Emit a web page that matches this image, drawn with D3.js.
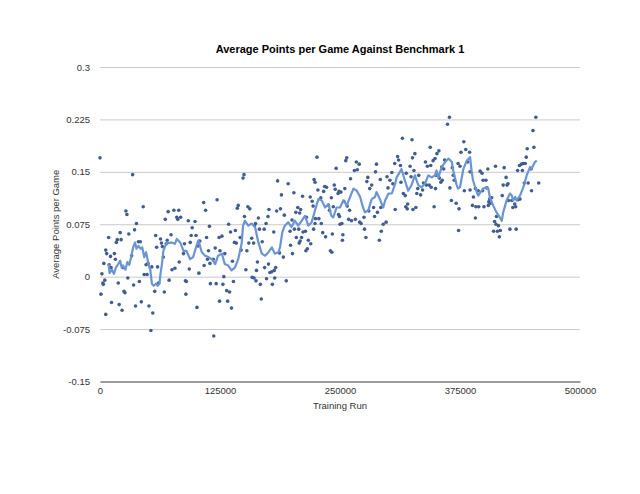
<!DOCTYPE html>
<html>
<head>
<meta charset="utf-8">
<script src="https://cdn.jsdelivr.net/npm/d3@7/dist/d3.min.js"></script>
<style>
    body { margin: 0; background: #fff; }
    text { font-family: "Liberation Sans", Arial, Helvetica, sans-serif; }
</style>
</head>
<body>
<svg id="chart"></svg>
<script>
// tick values
const yTicks = [-0.15, -0.075, 0, 0.075, 0.15, 0.225, 0.3];
const yTickLabels = ['-0.15', '-0.075', '0', '0.075', '0.15', '0.225', '0.3'];
const xTicks = [0, 125000, 250000, 375000, 500000];

// scatter: [training run, average points per game]
const points = [
    [0, 0.170], [34000, 0.146], [27000, 0.094], [28000, 0.089], [45000, 0.100], [71000, 0.093],
    [68000, 0.082], [38000, 0.076], [36000, 0.067], [9000, 0.056], [21000, 0.063], [17000, 0.049],
    [18000, 0.053], [22000, 0.053], [30000, 0.061], [40000, 0.050], [42000, 0.050], [58000, 0.059],
    [63000, 0.054], [64000, 0.048], [65000, 0.043], [70000, 0.052], [7000, 0.033], [6000, 0.038],
    [11000, 0.029], [15000, 0.033], [16000, 0.025], [4000, 0.019], [2000, 0.004], [3000, -0.009],
    [3500, -0.011], [5000, -0.005], [1000, -0.025], [6000, -0.054], [12000, -0.037], [20000, -0.040],
    [23000, -0.048], [19000, -0.009], [25000, -0.021], [26000, -0.023], [29000, -0.002], [35000, -0.012],
    [37000, -0.042], [41000, -0.007], [43000, -0.036], [46000, 0.003], [49000, 0.003], [48000, 0.017],
    [50000, 0.019], [54000, 0.014], [51000, -0.042], [55000, -0.052], [53000, -0.077], [57000, -0.021],
    [60000, 0.014], [67000, -0.022], [72000, -0.005], [61000, -0.009], [66000, 0.028], [9500, 0.017],
    [11500, 0.013], [24000, 0.013], [33000, 0.030], [59000, 0.042], [69000, 0.047],
    [149000, 0.141], [150000, 0.146], [108000, 0.106], [122000, 0.110], [110000, 0.095], [77000, 0.095],
    [82000, 0.095], [80000, 0.085], [81000, 0.082], [84000, 0.085], [92000, 0.080], [99000, 0.079],
    [114000, 0.072], [143000, 0.098], [144000, 0.102], [134000, 0.075], [150500, 0.086], [96000, 0.070],
    [95000, 0.059], [100000, 0.059], [74000, 0.060], [111000, 0.056], [104000, 0.051], [124000, 0.056],
    [127000, 0.058], [136000, 0.064], [141000, 0.066], [140000, 0.049], [142000, 0.048], [120000, 0.041],
    [147000, 0.038], [82500, 0.021], [87000, 0.033], [93000, 0.011], [75000, 0.010], [78000, 0.012],
    [103000, 0.005], [114500, 0.019], [112000, 0.025], [108500, 0.016], [118000, 0.025], [138000, 0.022],
    [129000, 0.000], [89000, -0.006], [90000, -0.007], [89500, -0.025], [115000, -0.010], [121000, -0.010],
    [128000, -0.011], [132000, -0.020], [135000, -0.022], [139000, -0.007], [101000, -0.044], [124500, -0.035],
    [133000, -0.035], [137000, -0.045], [118500, -0.085], [88000, 0.047], [94000, 0.049], [102000, 0.044],
    [113000, 0.037], [125000, 0.037], [130000, 0.033],
    [226000, 0.171], [185000, 0.137], [196000, 0.133], [223000, 0.139], [224000, 0.135], [227000, 0.124],
    [189000, 0.117], [202000, 0.120], [211000, 0.115], [219000, 0.114], [221000, 0.108], [222000, 0.101],
    [154000, 0.100], [156000, 0.097], [176000, 0.096], [184000, 0.094], [188000, 0.097], [192000, 0.088],
    [206000, 0.099], [204000, 0.092], [208000, 0.091], [209000, 0.096], [215000, 0.085], [224500, 0.083],
    [228000, 0.083], [165000, 0.084], [175000, 0.086], [200000, 0.081], [161000, 0.073], [162000, 0.076],
    [166000, 0.068], [171000, 0.068], [173000, 0.076], [181000, 0.064], [198000, 0.065], [202500, 0.068],
    [207000, 0.068], [211500, 0.064], [214000, 0.065], [204500, 0.056], [210000, 0.056], [222500, 0.068],
    [146000, 0.056], [158000, 0.055], [160000, 0.048], [155000, 0.048], [153000, 0.037], [169000, 0.050],
    [207500, 0.048], [208500, 0.051], [217000, 0.052], [219500, 0.047], [214500, 0.037], [216000, 0.040],
    [198500, 0.045], [200500, 0.033], [187000, 0.034], [191000, 0.028], [164000, 0.021], [175500, 0.018],
    [171500, 0.013], [183000, 0.013], [181500, 0.009], [177000, 0.006], [179000, 0.007], [152000, 0.010],
    [163000, 0.009], [158500, -0.001], [160500, -0.002], [162500, -0.006], [173500, -0.003], [182000, -0.002],
    [179500, -0.011], [167000, -0.011], [194000, -0.006], [168000, -0.032],
    [257000, 0.170], [256000, 0.166], [267000, 0.164], [270000, 0.161], [246000, 0.155], [265000, 0.152],
    [268000, 0.153], [288000, 0.161], [287000, 0.150], [307000, 0.162], [304000, 0.149], [261000, 0.140],
    [279000, 0.142], [278000, 0.136], [292000, 0.139], [299000, 0.143], [302000, 0.138], [234000, 0.129],
    [236000, 0.128], [244000, 0.131], [245000, 0.125], [249000, 0.122], [251000, 0.121], [255000, 0.126],
    [283000, 0.131], [281000, 0.126], [300000, 0.127], [233000, 0.122], [230000, 0.113], [241000, 0.113],
    [248000, 0.119], [254000, 0.108], [257500, 0.101], [260000, 0.095], [238000, 0.102], [239000, 0.095],
    [243000, 0.100], [248500, 0.089], [249500, 0.086], [252000, 0.076], [250000, 0.075], [230500, 0.076],
    [224000, 0.076], [259000, 0.082], [262000, 0.080], [266000, 0.082], [270500, 0.078], [272000, 0.076],
    [275000, 0.085], [275500, 0.068], [277000, 0.056], [280000, 0.094], [285000, 0.099], [289000, 0.092],
    [286000, 0.086], [292500, 0.099], [298000, 0.078], [295000, 0.075], [293000, 0.065], [291000, 0.052],
    [307500, 0.096], [232000, 0.063], [235000, 0.057], [242000, 0.061], [240000, 0.037], [241500, 0.035],
    [253000, 0.060], [252500, 0.052],
    [364000, 0.228], [362000, 0.218], [315000, 0.198], [325000, 0.196], [344000, 0.185], [379000, 0.193],
    [353000, 0.180], [351000, 0.176], [328000, 0.176], [376000, 0.178], [381000, 0.182], [385000, 0.178],
    [310000, 0.172], [311000, 0.167], [325500, 0.170], [339000, 0.164], [347000, 0.166], [349000, 0.169],
    [359000, 0.167], [313000, 0.159], [323000, 0.158], [341000, 0.158], [344500, 0.159], [356000, 0.157],
    [358000, 0.154], [373000, 0.162], [375000, 0.158], [367000, 0.156], [319000, 0.148], [327000, 0.152],
    [332000, 0.145], [324000, 0.143], [350000, 0.145], [353500, 0.141], [355000, 0.135], [356500, 0.138],
    [305000, 0.133], [313500, 0.135], [368000, 0.145], [369000, 0.138], [337000, 0.134], [340000, 0.131],
    [343000, 0.131], [345000, 0.128], [331000, 0.126], [336000, 0.124], [349500, 0.126], [330000, 0.119],
    [334000, 0.117], [316000, 0.119], [318000, 0.116], [364500, 0.127], [379500, 0.123], [385500, 0.124],
    [318500, 0.100], [320000, 0.097], [320500, 0.104], [326000, 0.096], [329000, 0.099], [348000, 0.100],
    [366000, 0.109], [371000, 0.105], [374000, 0.097], [373500, 0.066],
    [454000, 0.228], [451000, 0.209], [452000, 0.185], [445000, 0.183], [444000, 0.171], [383000, 0.164],
    [385500, 0.150], [441000, 0.162], [443000, 0.162], [437000, 0.159], [439000, 0.161], [435000, 0.152],
    [440000, 0.152], [449000, 0.154], [412000, 0.158], [421000, 0.156], [404000, 0.154], [396000, 0.151],
    [398000, 0.148], [423000, 0.142], [399000, 0.138], [402000, 0.138], [425000, 0.133], [420000, 0.131],
    [424000, 0.131], [442000, 0.134], [446000, 0.134], [457000, 0.134], [391000, 0.126], [394000, 0.123],
    [398500, 0.123], [403000, 0.127], [449500, 0.123], [389000, 0.114], [406000, 0.111], [408000, 0.113],
    [419000, 0.116], [437500, 0.111], [435500, 0.110], [388000, 0.102], [391500, 0.100], [394500, 0.100],
    [400000, 0.100], [404500, 0.102], [405000, 0.107], [407000, 0.105], [425500, 0.109], [429000, 0.109],
    [432000, 0.104], [433000, 0.100], [430000, 0.099], [391000, 0.084], [413000, 0.086], [411000, 0.079],
    [412500, 0.075], [410000, 0.065], [414000, 0.065], [415000, 0.073], [416000, 0.057], [417000, 0.066],
    [427000, 0.068], [433500, 0.068]
];

// moving average trend line: [training run, value]
const trend = [
    [9000, 0.018], [10000, 0.005], [12500, 0.010], [14500, 0.004], [16500, 0.013], [19000, 0.018],
    [21000, 0.023], [22500, 0.013], [24000, 0.016], [26500, 0.010], [28500, 0.021], [30500, 0.017],
    [32500, 0.028], [34500, 0.042], [36500, 0.049], [38000, 0.040], [40000, 0.044], [42500, 0.040],
    [44000, 0.042], [46000, 0.028], [48000, 0.035], [50500, 0.018], [52500, 0.009], [54000, -0.010],
    [56000, -0.013], [58500, -0.010], [60000, -0.013], [62000, -0.010], [63000, 0.004], [64500, 0.018],
    [66000, 0.037], [68000, 0.044], [70000, 0.049], [72000, 0.048], [74500, 0.049], [78000, 0.047],
    [80000, 0.054], [83500, 0.049], [87000, 0.037], [90000, 0.037], [94000, 0.025], [97000, 0.028],
    [100500, 0.044], [102500, 0.052], [106000, 0.035], [109500, 0.030], [113000, 0.028], [116500, 0.025],
    [120000, 0.018], [123000, 0.030], [127000, 0.033], [130000, 0.018], [133500, 0.016], [137000, 0.009],
    [140500, 0.013], [144000, 0.025], [147500, 0.047], [149000, 0.073], [151000, 0.080], [154500, 0.073],
    [158000, 0.076], [161500, 0.071], [165000, 0.049], [168500, 0.033], [172000, 0.030], [175500, 0.035],
    [179000, 0.042], [182000, 0.033], [186000, 0.035], [187500, 0.042], [190000, 0.064], [192500, 0.073],
    [196000, 0.078], [199500, 0.071], [203000, 0.080], [206500, 0.073], [210000, 0.080], [213500, 0.087],
    [217000, 0.073], [220500, 0.078], [224000, 0.095], [227500, 0.111], [231000, 0.109], [234500, 0.099],
    [238000, 0.104], [241000, 0.087], [243000, 0.085], [246500, 0.099], [250000, 0.099], [253500, 0.109],
    [257000, 0.102], [260500, 0.114], [264000, 0.126], [267500, 0.123], [271000, 0.114], [274000, 0.099],
    [276000, 0.092], [279500, 0.095], [283000, 0.111], [286500, 0.114], [288000, 0.121], [291500, 0.111],
    [295000, 0.099], [297000, 0.109], [300500, 0.119], [304000, 0.119], [307500, 0.133], [309000, 0.142],
    [312500, 0.150], [314000, 0.154], [317500, 0.138], [321000, 0.123], [324500, 0.131], [328000, 0.145],
    [331500, 0.131], [335000, 0.128], [338500, 0.133], [342000, 0.145], [345500, 0.142], [349000, 0.145],
    [350500, 0.152], [352500, 0.142], [356000, 0.157], [359500, 0.164], [363000, 0.169], [366500, 0.164],
    [368000, 0.152], [371500, 0.131], [373000, 0.126], [375000, 0.128], [378500, 0.154], [382000, 0.166],
    [385500, 0.171], [387000, 0.152], [388500, 0.138], [392500, 0.121], [394000, 0.116], [397500, 0.123],
    [399000, 0.126], [403000, 0.128], [404500, 0.126], [406000, 0.114], [409500, 0.102], [413000, 0.092],
    [416500, 0.085], [418500, 0.080], [420000, 0.092], [423500, 0.109], [427000, 0.119], [429000, 0.116],
    [430500, 0.109], [432500, 0.114], [434000, 0.109], [437500, 0.116], [441000, 0.128], [444500, 0.145],
    [448000, 0.157], [449500, 0.154], [453000, 0.164], [455000, 0.166]
];

const props = {
    width: 640,
    height: 494,
    plot: { left: 100, right: 580, top: 67, bottom: 381.5 },
    colors: { dot: '#3f5d92', line: '#6a95d2', grid: '#c9c9c9', axis: '#555', text: '#333' }
};

let graph, xScale, yScale;

function initGraph() {
    graph = d3.select('#chart')
        .attr('width', props.width)
        .attr('height', props.height);
    graph.append('rect')
        .attr('width', props.width)
        .attr('height', props.height)
        .attr('fill', '#fff');
}

function initScales() {
    xScale = d3.scaleLinear()
        .domain([0, 500000])
        .range([props.plot.left, props.plot.right]);
    yScale = d3.scaleLinear()
        .domain([-0.15, 0.3])
        .range([props.plot.bottom, props.plot.top]);
}

function appendAxes() {
    const yAxis = d3.axisLeft(yScale)
        .tickValues(yTicks)
        .tickSize(-(props.plot.right - props.plot.left))
        .tickPadding(10)
        .tickFormat((d, i) => yTickLabels[i]);

    const gy = graph.append('g')
        .attr('class', 'y axis')
        .attr('transform', 'translate(' + props.plot.left + ',0)')
        .call(yAxis);
    gy.select('.domain').remove();
    gy.selectAll('line').attr('stroke', props.colors.grid);
    gy.selectAll('text')
        .attr('fill', props.colors.text)
        .style('font-size', '9.5px');

    const xAxis = d3.axisBottom(xScale)
        .tickValues(xTicks)
        .tickSize(0)
        .tickPadding(6)
        .tickFormat(d3.format('d'));

    const gx = graph.append('g')
        .attr('class', 'x axis')
        .attr('transform', 'translate(0,' + props.plot.bottom + ')')
        .call(xAxis);
    gx.select('.domain').attr('stroke', props.colors.axis);
    gx.selectAll('text')
        .attr('fill', props.colors.text)
        .style('font-size', '9.5px');
}

function appendLabels() {
    graph.append('text')
        .attr('text-anchor', 'middle')
        .attr('x', 340)
        .attr('y', 53)
        .attr('fill', '#000')
        .style('font-size', '11px')
        .style('font-weight', 'bold')
        .text('Average Points per Game Against Benchmark 1');

    graph.append('text')
        .attr('text-anchor', 'middle')
        .attr('x', 340)
        .attr('y', 409)
        .attr('fill', props.colors.text)
        .style('font-size', '9.5px')
        .text('Training Run');

    graph.append('text')
        .attr('text-anchor', 'middle')
        .attr('transform', 'translate(59,' + ((props.plot.top + props.plot.bottom) / 2) + ') rotate(-90)')
        .attr('fill', props.colors.text)
        .style('font-size', '9.5px')
        .text('Average Points per Game');
}

function drawTrend() {
    const line = d3.line()
        .x(d => xScale(d[0]))
        .y(d => yScale(d[1]));

    graph.append('path')
        .datum(trend)
        .attr('fill', 'none')
        .attr('stroke', props.colors.line)
        .attr('stroke-width', 2.2)
        .attr('stroke-linejoin', 'round')
        .attr('d', line);
}

function drawPoints() {
    graph.append('g')
        .selectAll('circle')
        .data(points)
        .join('circle')
        .attr('cx', d => xScale(d[0]))
        .attr('cy', d => yScale(d[1]))
        .attr('r', 1.8)
        .attr('fill', props.colors.dot);
}

initGraph();
initScales();
appendAxes();
drawPoints();
drawTrend();
appendLabels();
</script>
</body>
</html>
